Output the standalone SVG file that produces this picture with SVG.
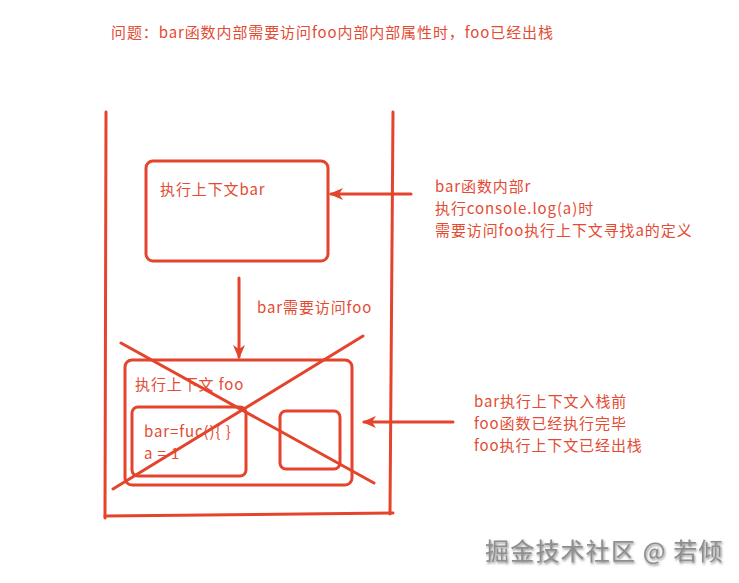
<svg xmlns="http://www.w3.org/2000/svg" width="739" height="583" viewBox="0 0 739 583">
<style>
.ln{stroke:#e4432c;stroke-width:3;fill:none;stroke-linecap:round;stroke-linejoin:round}
.bx{stroke:#e4432c;stroke-width:3;fill:none}
.t{font-family:"Microsoft YaHei","Noto Sans CJK SC","Noto Sans",sans-serif;font-size:15px;letter-spacing:0.9px;fill:#e34b33}
.wm{font-family:"Noto Sans CJK SC",sans-serif;font-size:24px;letter-spacing:1.2px;fill:#8e8e8e}
</style>
<defs>
<marker id="ah" viewBox="0 0 14 12" refX="12" refY="6" markerWidth="14" markerHeight="12" markerUnits="userSpaceOnUse" orient="auto">
<path d="M0,0 L14,6 L0,12 L4,6 Z" fill="#e4432c"/>
</marker>
<filter id="sh" x="-5%" y="-20%" width="110%" height="140%">
<feDropShadow dx="1" dy="1.5" stdDeviation="0.8" flood-color="#333" flood-opacity="0.6"/>
</filter>
</defs>
<rect width="739" height="583" fill="#ffffff"/>
<text class="t" x="111" y="38">问题：bar函数内部需要访问foo内部内部属性时，foo已经出栈</text>
<g id="stack">
<path class="ln" d="M106,112 L105,518"/>
<path class="ln" d="M393,112 L390,514"/>
<path class="ln" d="M105,516 L393,513"/>
</g>
<g id="bar-ctx">
<rect class="bx" x="146" y="161" width="182" height="100" rx="7"/>
<text class="t" x="160" y="195">执行上下文bar</text>
</g>
<g id="foo-ctx">
<rect class="bx" x="125" y="360" width="227" height="125" rx="7"/>
<text class="t" x="135" y="390">执行上下文 foo</text>
<rect class="bx" x="132" y="407" width="114" height="69" rx="6"/>
<text class="t" x="144" y="437">bar=fuc(){ }</text>
<text class="t" x="144" y="459">a = 1</text>
<rect class="bx" x="280" y="411" width="60" height="58" rx="6"/>
</g>
<g id="cross">
<path class="ln" d="M121,343 L374,483"/>
<path class="ln" d="M363,336 L113,489"/>
</g>
<g id="connectors">
<path class="ln" d="M411,194 L331,194" marker-end="url(#ah)"/>
<path class="ln" d="M239,278 L239,357" marker-end="url(#ah)"/>
<path class="ln" d="M453,422 L364,422" marker-end="url(#ah)"/>
</g>
<g id="note-bar">
<text class="t" x="435" y="192">bar函数内部r</text>
<text class="t" x="435" y="214">执行console.log(a)时</text>
<text class="t" x="435" y="236">需要访问foo执行上下文寻找a的定义</text>
</g>
<g id="note-arrow">
<text class="t" x="257" y="313">bar需要访问foo</text>
</g>
<g id="note-foo">
<text class="t" x="474" y="407">bar执行上下文入栈前</text>
<text class="t" x="474" y="429">foo函数已经执行完毕</text>
<text class="t" x="474" y="451">foo执行上下文已经出栈</text>
</g>
<text class="wm" x="485" y="560" filter="url(#sh)">掘金技术社区 @ 若倾</text>
</svg>
